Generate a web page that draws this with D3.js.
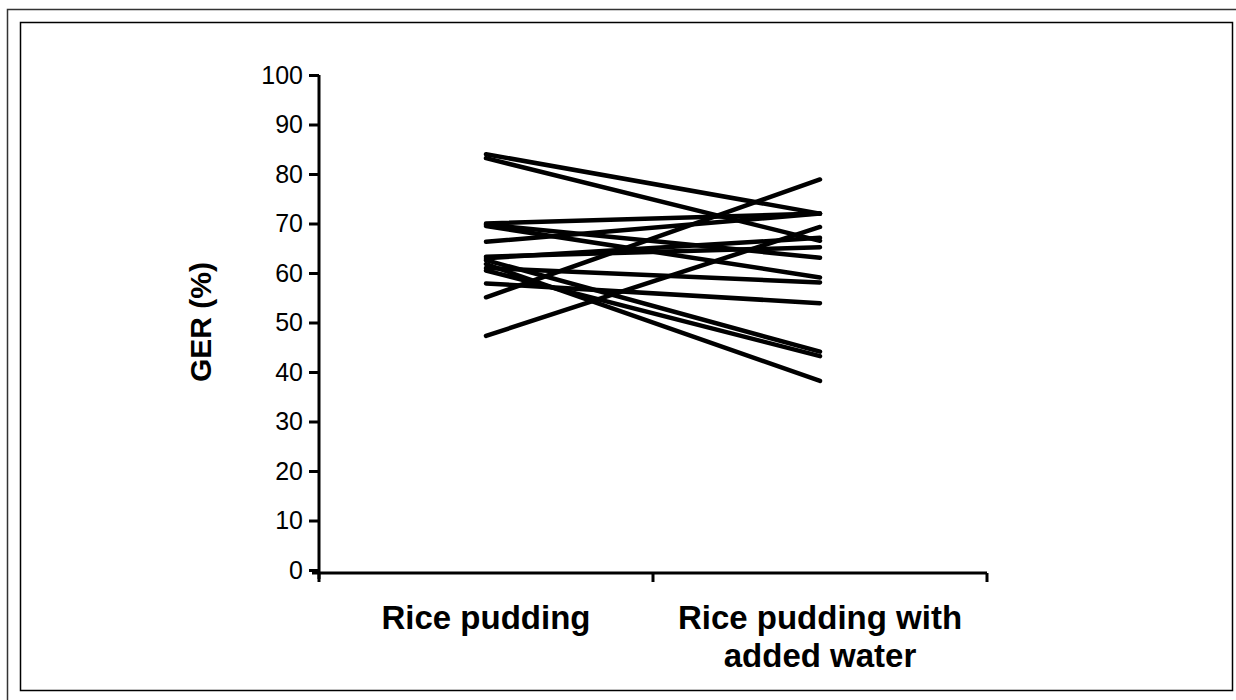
<!DOCTYPE html>
<html>
<head>
<meta charset="utf-8">
<script src="https://cdn.jsdelivr.net/npm/d3@7"></script>
<style>
  body { margin: 0; background: #fff; }
  svg { display: block; font-family: "Liberation Sans", Arial, sans-serif; }
</style>
</head>
<body>
<svg id="canvas" width="1236" height="700"></svg>
<script>
// categories on the x axis
let categories = ['Rice pudding', 'Rice pudding with added water']
// each subject: value without water, value with added water
let before = [84.0, 83.2, 70.0, 69.5, 69.8, 66.3, 63.3, 63.0, 62.6, 61.8, 61.0, 60.5, 57.9, 55.1, 47.3]
let after  = [72.0, 66.5, 72.0, 59.1, 63.1, 72.0, 65.2, 67.1, 44.1, 38.2, 58.1, 43.2, 53.9, 78.9, 69.3]
let yTicks = [0, 10, 20, 30, 40, 50, 60, 70, 80, 90, 100]

let canvas = d3.select('#canvas')

// frames
canvas.append('path')
    .attr('d', 'M7.5,700 L7.5,9.5 L1236,9.5')
    .attr('fill', 'none')
    .attr('stroke', '#333')
    .attr('stroke-width', 1.5)
canvas.append('rect')
    .attr('x', 20.5).attr('y', 22.5)
    .attr('width', 1212).attr('height', 668)
    .attr('fill', 'none')
    .attr('stroke', '#000')
    .attr('stroke-width', 1.5)

let x = d3.scaleBand().domain(categories).range([319, 987])
let y = d3.scaleLinear().domain([0, 100]).range([570, 75])

let subjects = before.map((b, i) => [b, after[i]])

canvas.selectAll('line.subject')
    .data(subjects)
    .enter()
    .append('line')
    .attr('class', 'subject')
    .attr('x1', x(categories[0]) + x.bandwidth() / 2)
    .attr('x2', x(categories[1]) + x.bandwidth() / 2)
    .attr('y1', (d) => y(d[0]))
    .attr('y2', (d) => y(d[1]))
    .attr('stroke', '#000')
    .attr('stroke-width', 4.5)
    .attr('stroke-linecap', 'round')

// y axis
let yAxis = d3.axisLeft(y).tickValues(yTicks).tickSize(10).tickPadding(6)
let gy = canvas.append('g').attr('transform', 'translate(319,0)').call(yAxis)
gy.select('.domain').attr('stroke-width', 3).attr('d', 'M0,75V579')
gy.selectAll('.tick line').attr('stroke-width', 3)
gy.selectAll('.tick text').attr('font-size', 25).attr('fill', '#000')

// x axis
let gx = canvas.append('g').attr('transform', 'translate(0,573)')
gx.append('line')
    .attr('x1', 312).attr('x2', 987)
    .attr('stroke', '#000').attr('stroke-width', 3)
gx.selectAll('line.tick')
    .data([319, 653, 987])
    .enter()
    .append('line')
    .attr('class', 'tick')
    .attr('x1', (d) => d).attr('x2', (d) => d)
    .attr('y1', 0).attr('y2', 9)
    .attr('stroke', '#000').attr('stroke-width', 3)

let labelLines = [['Rice pudding'], ['Rice pudding with', 'added water']]
categories.forEach((c, i) => {
    let t = canvas.append('text')
        .attr('x', x(c) + x.bandwidth() / 2)
        .attr('y', 629)
        .attr('text-anchor', 'middle')
        .attr('font-size', 33)
        .attr('font-weight', 'bold')
    labelLines[i].forEach((l, j) => {
        t.append('tspan')
            .attr('x', x(c) + x.bandwidth() / 2)
            .attr('dy', j === 0 ? 0 : 38)
            .text(l)
    })
})

canvas.append('text')
    .attr('transform', 'translate(211,322) rotate(-90)')
    .attr('text-anchor', 'middle')
    .attr('font-size', 30)
    .attr('font-weight', 'bold')
    .text('GER (%)')
</script>
</body>
</html>
